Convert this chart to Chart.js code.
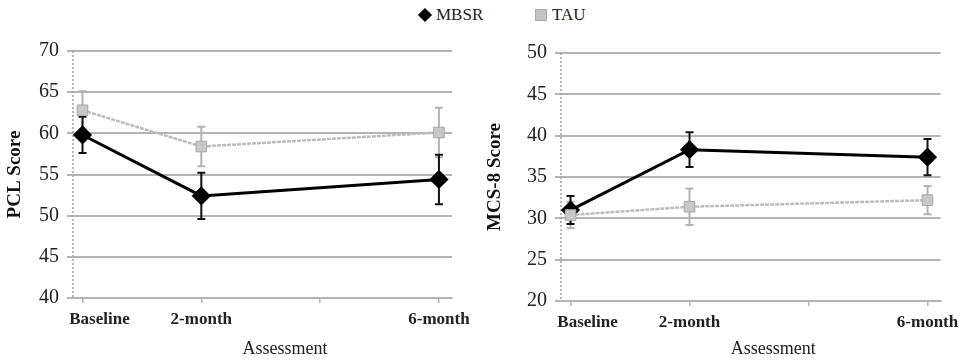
<!DOCTYPE html>
<html>
<head>
<meta charset="utf-8">
<script src="https://cdn.jsdelivr.net/npm/chart.js@4.4.1/dist/chart.umd.min.js"></script>
<style>
  body { margin: 0; background: #fff; font-family: "Liberation Serif", serif; }
  .wrap { position: relative; width: 965px; height: 364px; overflow: hidden; }
  .panel { position: absolute; top: 0; }
  .legend { position: absolute; top: 4px; left: 0; width: 965px; height: 22px; font-size: 17px; color: #222; }
  .legend span { position: absolute; top: 1px; }
  .dia { position: absolute; width: 10px; height: 10px; background: #000; transform: rotate(45deg); }
  .sq { position: absolute; width: 12px; height: 12px; background: #c4c4c4; border: 1px solid #aaa; box-sizing: border-box; }
</style>
</head>
<body>
<div class="wrap">
  <div class="legend">
    <div class="dia" style="left:420px; top:6px;"></div>
    <span style="left:436px;">MBSR</span>
    <div class="sq" style="left:535px; top:5px;"></div>
    <span style="left:552px;">TAU</span>
  </div>
  <div class="panel" style="left:0;"><canvas id="pcl" width="480" height="364"></canvas></div>
  <div class="panel" style="left:480px;"><canvas id="mcs" width="485" height="364"></canvas></div>
</div>
<script>
// months since baseline
const months = [0, 2, 6];
const tickValues = [0, 2, 4, 6];
const tickLabels = ['\u2003\u2003Baseline', '2-month', '', '6-month'];

const pclMbsr = [59.8, 52.4, 54.4];
const pclMbsrErr = [2.2, 2.8, 3.0];
const pclTau = [62.8, 58.4, 60.1];
const pclTauErr = [2.3, 2.4, 3.0];

const mcsMbsr = [31.0, 38.3, 37.4];
const mcsMbsrErr = [1.7, 2.1, 2.2];
const mcsTau = [30.4, 31.4, 32.2];
const mcsTauErr = [1.6, 2.2, 1.7];

const grey = '#b4b4b4';

function pts(vals) {
  return vals.map((v, i) => ({ x: months[i], y: v }));
}

// dotted y axis line + error bars, drawn under the markers
const errorBars = {
  id: 'errorBars',
  beforeDatasetsDraw(chart) {
    const ctx = chart.ctx;
    const xs = chart.scales.x, ys = chart.scales.y;
    const a = chart.chartArea;
    ctx.save();
    ctx.strokeStyle = '#a0a0a0';
    ctx.lineWidth = 1.5;
    ctx.setLineDash([2, 2]);
    ctx.beginPath();
    ctx.moveTo(a.left, a.top);
    ctx.lineTo(a.left, a.bottom);
    ctx.stroke();
    ctx.restore();

    chart.data.datasets.forEach((ds) => {
      ctx.save();
      ctx.strokeStyle = ds.errColor;
      ctx.lineWidth = 2;
      ds.data.forEach((p, i) => {
        const e = ds.err[i];
        const x = xs.getPixelForValue(p.x);
        const y1 = ys.getPixelForValue(p.y - e);
        const y2 = ys.getPixelForValue(p.y + e);
        ctx.beginPath();
        ctx.moveTo(x, y1); ctx.lineTo(x, y2);
        ctx.moveTo(x - 4, y1); ctx.lineTo(x + 4, y1);
        ctx.moveTo(x - 4, y2); ctx.lineTo(x + 4, y2);
        ctx.stroke();
      });
      ctx.restore();
    });
  }
};

function makeChart(id, opt) {
  new Chart(document.getElementById(id), {
    type: 'line',
    data: {
      datasets: [
        {
          label: 'TAU', data: pts(opt.tau), err: opt.tauErr, errColor: grey,
          borderColor: '#bcbcbc', borderWidth: 2.5, borderDash: [4, 1],
          pointStyle: 'rect', pointRadius: 7.5, pointBackgroundColor: '#c8c8c8',
          pointBorderColor: '#a8a8a8', pointBorderWidth: 1, tension: 0
        },
        {
          label: 'MBSR', data: pts(opt.mbsr), err: opt.mbsrErr, errColor: '#111',
          borderColor: '#000', borderWidth: 3,
          pointStyle: 'rectRot', pointRadius: 7.5, pointBackgroundColor: '#000',
          pointBorderColor: '#000', tension: 0
        }
      ]
    },
    options: {
      responsive: false,
      animation: false,
      layout: { padding: { top: opt.top, right: opt.right, left: 0, bottom: 0 } },
      plugins: { legend: { display: false }, tooltip: { enabled: false } },
      scales: {
        x: {
          type: 'linear', min: -0.16, max: 6.22,
          afterBuildTicks: (s) => { s.ticks = tickValues.map(v => ({ value: v })); },
          afterFit: (s) => { s.height = opt.xh; },
          ticks: {
            padding: 6,
            color: '#222',
            font: { family: 'Liberation Serif', size: 17, weight: 'bold' },
            callback: (v) => tickLabels[tickValues.indexOf(v)] || ''
          },
          grid: { drawOnChartArea: false, drawTicks: true, tickLength: 5, color: grey, lineWidth: 1.5 },
          border: { display: true, color: grey, width: 2 },
          title: {
            display: true, text: '\u2003\u2003\u2002Assessment', color: '#222',
            font: { family: 'Liberation Serif', size: 18 },
            padding: { top: 0, bottom: 4 }
          }
        },
        y: {
          min: opt.ymin, max: opt.ymax,
          afterBuildTicks: (s) => {
            const t = [];
            for (let v = opt.ymin; v <= opt.ymax; v += 5) t.push({ value: v });
            s.ticks = t;
          },
          afterFit: (s) => { s.width = opt.yw; },
          ticks: {
            padding: 8, color: '#222',
            font: { family: 'Liberation Serif', size: 20 }
          },
          grid: { color: grey, lineWidth: 2, drawTicks: true, tickLength: 6 },
          border: { display: false },
          title: {
            display: true, text: opt.title, color: '#111',
            font: { family: 'Liberation Serif', size: 19, weight: 'bold' },
            padding: { top: 4, bottom: 2 }
          }
        }
      }
    },
    plugins: [errorBars]
  });
}

makeChart('pcl', {
  mbsr: pclMbsr, mbsrErr: pclMbsrErr, tau: pclTau, tauErr: pclTauErr,
  ymin: 40, ymax: 70, title: 'PCL Score',
  top: 51, right: 28, yw: 73, xh: 66
});

makeChart('mcs', {
  mbsr: mcsMbsr, mbsrErr: mcsMbsrErr, tau: mcsTau, tauErr: mcsTauErr,
  ymin: 20, ymax: 50, title: 'MCS-8 Score',
  top: 53, right: 23, yw: 81, xh: 63
});
</script>
</body>
</html>
